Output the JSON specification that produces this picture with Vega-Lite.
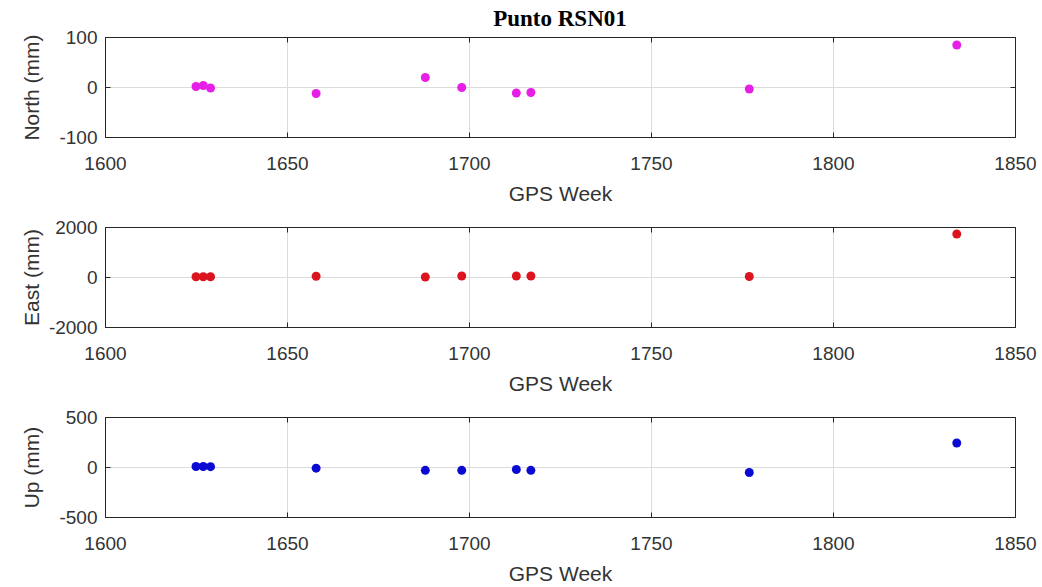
{
  "$schema": "https://vega.github.io/schema/vega-lite/v6.json",
  "background": "white",
  "padding": {"left": 20, "top": 7, "right": 5, "bottom": 5},
  "datasets": {
    "pts": [
      {"week": 1625, "north": 1, "east": 10, "up": 5},
      {"week": 1627, "north": 3, "east": 10, "up": 5},
      {"week": 1629, "north": -2, "east": 10, "up": 3},
      {"week": 1658, "north": -13, "east": 30, "up": -12},
      {"week": 1688, "north": 19, "east": 0, "up": -33},
      {"week": 1698, "north": -1, "east": 40, "up": -33},
      {"week": 1713, "north": -12, "east": 40, "up": -25},
      {"week": 1717, "north": -11, "east": 40, "up": -33},
      {"week": 1777, "north": -4, "east": 20, "up": -55},
      {"week": 1834, "north": 84, "east": 1720, "up": 240}
    ]
  },
  "data": {"name": "pts"},
  "bounds": "flush",
  "spacing": 90,
  "vconcat": [
    {
      "width": 910, "height": 100,
      "title": {"text": "Punto RSN01", "font": "Liberation Serif", "fontSize": 23, "fontWeight": "bold", "color": "black", "anchor": "middle", "frame": "group", "offset": -3},
      "layer": [
        {
          "mark": {"type": "point", "filled": true, "size": 80, "opacity": 1, "color": "#e61ee6"},
          "encoding": {
            "x": {"field": "week", "type": "quantitative", "scale": {"domain": [1600, 1850], "nice": false, "zero": false},
              "axis": {"orient": "bottom", "values": [1600, 1650, 1700, 1750, 1800, 1850], "title": "GPS Week", "labelExpr": "'' + datum.value"}},
            "y": {"field": "north", "type": "quantitative", "scale": {"domain": [-100, 100], "nice": false},
              "axis": {"orient": "left", "values": [-100, 0, 100], "title": "North (mm)", "labelExpr": "'' + datum.value"}}
          }
        },
        {
          "mark": {"type": "point", "filled": true, "size": 80, "opacity": 0},
          "encoding": {
            "x": {"field": "week", "type": "quantitative", "axis": {"orient": "top", "values": [1600, 1650, 1700, 1750, 1800, 1850], "labels": false, "grid": false, "title": null}},
            "y": {"field": "north", "type": "quantitative", "axis": {"orient": "right", "values": [-100, 0, 100], "labels": false, "grid": false, "title": null}}
          }
        }
      ],
      "resolve": {"axis": {"x": "independent", "y": "independent"}}
    },
    {
      "width": 910, "height": 100,
      "layer": [
        {
          "mark": {"type": "point", "filled": true, "size": 80, "opacity": 1, "color": "#dc141e"},
          "encoding": {
            "x": {"field": "week", "type": "quantitative", "scale": {"domain": [1600, 1850], "nice": false, "zero": false},
              "axis": {"orient": "bottom", "values": [1600, 1650, 1700, 1750, 1800, 1850], "title": "GPS Week", "labelExpr": "'' + datum.value"}},
            "y": {"field": "east", "type": "quantitative", "scale": {"domain": [-2000, 2000], "nice": false},
              "axis": {"orient": "left", "values": [-2000, 0, 2000], "title": "East (mm)", "labelExpr": "'' + datum.value"}}
          }
        },
        {
          "mark": {"type": "point", "filled": true, "size": 80, "opacity": 0},
          "encoding": {
            "x": {"field": "week", "type": "quantitative", "axis": {"orient": "top", "values": [1600, 1650, 1700, 1750, 1800, 1850], "labels": false, "grid": false, "title": null}},
            "y": {"field": "east", "type": "quantitative", "axis": {"orient": "right", "values": [-2000, 0, 2000], "labels": false, "grid": false, "title": null}}
          }
        }
      ],
      "resolve": {"axis": {"x": "independent", "y": "independent"}}
    },
    {
      "width": 910, "height": 100,
      "layer": [
        {
          "mark": {"type": "point", "filled": true, "size": 80, "opacity": 1, "color": "#0a0ad2"},
          "encoding": {
            "x": {"field": "week", "type": "quantitative", "scale": {"domain": [1600, 1850], "nice": false, "zero": false},
              "axis": {"orient": "bottom", "values": [1600, 1650, 1700, 1750, 1800, 1850], "title": "GPS Week", "labelExpr": "'' + datum.value"}},
            "y": {"field": "up", "type": "quantitative", "scale": {"domain": [-500, 500], "nice": false},
              "axis": {"orient": "left", "values": [-500, 0, 500], "title": "Up (mm)", "labelExpr": "'' + datum.value"}}
          }
        },
        {
          "mark": {"type": "point", "filled": true, "size": 80, "opacity": 0},
          "encoding": {
            "x": {"field": "week", "type": "quantitative", "axis": {"orient": "top", "values": [1600, 1650, 1700, 1750, 1800, 1850], "labels": false, "grid": false, "title": null}},
            "y": {"field": "up", "type": "quantitative", "axis": {"orient": "right", "values": [-500, 0, 500], "labels": false, "grid": false, "title": null}}
          }
        }
      ],
      "resolve": {"axis": {"x": "independent", "y": "independent"}}
    }
  ],
  "config": {
    "view": {"stroke": "#262626", "strokeWidth": 1},
    "axis": {
      "domain": true,
      "domainColor": "#262626",
      "domainWidth": 1,
      "grid": true,
      "gridColor": "#dcdcdc",
      "gridWidth": 1,
      "ticks": true,
      "tickSize": -5,
      "tickColor": "#262626",
      "tickWidth": 1,
      "labelFlush": false,
      "labelOverlap": false,
      "labelFont": "Liberation Sans",
      "labelFontSize": 19,
      "labelColor": "#333333",
      "titleFont": "Liberation Sans",
      "titleFontSize": 21,
      "titleFontWeight": "normal",
      "titleColor": "#333333"
    },
    "axisX": {"labelPadding": 22, "titlePadding": 10},
    "axisY": {"labelPadding": 13, "labelBaseline": "middle", "titleX": -73, "titleBaseline": "middle"}
  }
}
